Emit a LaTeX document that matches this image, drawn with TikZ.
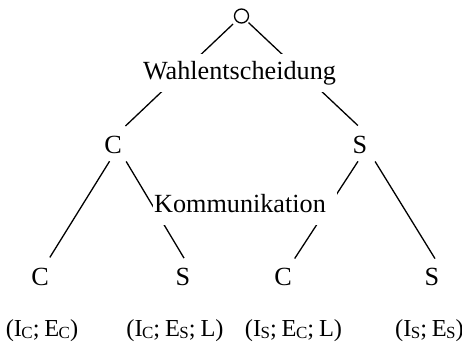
\documentclass[tikz,border=0pt]{standalone}
\usepackage{fontspec}
\setmainfont{Liberation Serif}
\usetikzlibrary{backgrounds}
\newcommand{\sbx}[1]{\kern-0.3pt\raisebox{-1pt}{\fontsize{8.5}{9}\selectfont #1}}
\newcommand{\tightsp}{\spaceskip=0.2em\relax}
\begin{document}
\begin{tikzpicture}[x=0.5pt,y=-0.5pt,
  lbl/.style={inner sep=0pt,anchor=base,font=\fontsize{13.1}{15}\selectfont},
  edge/.style={line width=0.65pt},
  pay/.style={inner sep=0pt,anchor=base,font=\fontsize{12.2}{14}\selectfont,execute at begin node=\tightsp}]
\useasboundingbox (0,0) rectangle (462,345);
\node[draw,circle,line width=0.65pt,minimum size=7pt,inner sep=0pt] (root) at (241.5,16) {};
\node[lbl,fill=white,inner ysep=3.5pt] (W) at (239.5,79) {Wahlentscheidung};
\node[lbl] (C1) at (113,153) {C};
\node[lbl] (S1) at (360,153) {S};
\node[lbl] (K) at (240,212.5) {Kommunikation};
\node[lbl] (CC) at (40,285) {C};
\node[lbl] (CS) at (183,285) {S};
\node[lbl] (SC) at (283,285) {C};
\node[lbl] (SS) at (432,285) {S};
\node[pay] (pCC) at (42,336) {(I\sbx{C}; E\sbx{C})};
\node[pay] (pCS) at (175,336) {(I\sbx{C}; E\sbx{S}; L)};
\node[pay] (pSC) at (293.5,336) {(I\sbx{S}; E\sbx{C}; L)};
\node[pay] (pSS) at (429.5,336) {(I\sbx{S}; E\sbx{S})};
\begin{pgfonlayer}{background}
\draw[edge,shorten <=2pt,shorten >=13.4pt] (root) -- ([xshift=-3.5pt]C1.center);
\draw[edge,shorten <=1pt,shorten >=13.8pt] (root) -- ([xshift=9pt]S1.center);
\draw[edge,shorten <=9.9pt,shorten >=11.2pt] ([xshift=3.5pt]C1.center) -- ([xshift=-1pt]CC.center);
\draw[edge,shorten <=9.9pt,shorten >=10.7pt] ([xshift=1.5pt]C1.center) -- ([xshift=6pt]CS.center);
\draw[edge,shorten <=10.1pt,shorten >=10.7pt] ([xshift=4.5pt]S1.center) -- (SC.center);
\draw[edge,shorten <=10pt,shorten >=10.5pt] ([xshift=2.3pt]S1.center) -- ([xshift=7pt]SS.center);
\fill[white] ([shift={(-0.5pt,1pt)}]K.north west) rectangle ([shift={(5.5pt,-6pt)}]K.south east);
\end{pgfonlayer}
\end{tikzpicture}
\end{document}
